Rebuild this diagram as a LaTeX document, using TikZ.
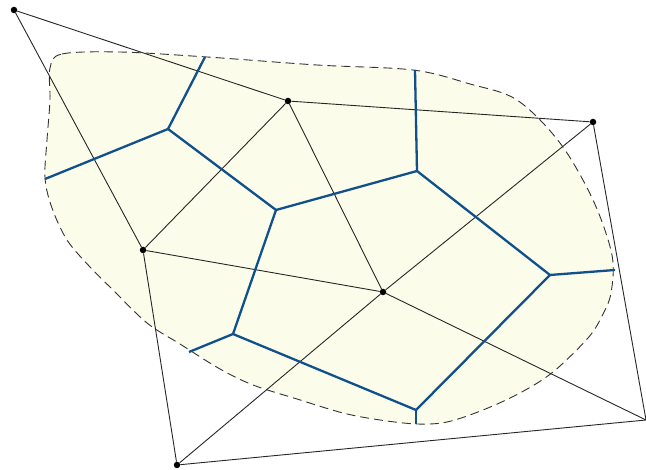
\documentclass[tikz,border=0pt]{standalone}
\begin{document}
\begin{tikzpicture}[x=1pt,y=-1pt,
  site/.style={circle,fill=black,inner sep=0pt,minimum size=6.5pt},
  delaunay/.style={draw=black!85,line width=0.9pt},
  voronoi/.style={draw=vblue,line width=2.3pt,line join=round},
  region/.style={draw=black!80,dashed,dash pattern=on 9pt off 5pt,line width=0.9pt,fill=regfill}]
\definecolor{vblue}{RGB}{16,80,140}
\definecolor{regfill}{RGB}{252,252,235}
\useasboundingbox (0,0) rectangle (646,470);
% region
\path[region] plot[smooth cycle,tension=0.55] coordinates {
 (50,68) (62,54) (120,52) (207,57) (317,65) (413,70) (470,84) (517,100)
 (560,143) (593,200) (612,255) (611,293) (602,316) (588,338) (553,372)
 (520,393) (483,410) (447,422) (417,424) (380,420) (343,413) (297,399)
 (253,385) (220,369) (180,344) (147,323) (113,290) (90,267) (67,240)
 (52,208) (45,178) (47,140) (50,100)};
% sites
\node[site] (A) at (14,10) {};
\node[site] (B) at (288,101) {};
\node[site] (C) at (593,122) {};
\node[site] (D) at (143,250) {};
\node[site] (E) at (383,292) {};
\node[site] (F) at (177,465) {};
\coordinate (G) at (646,420);
% Delaunay edges
\draw[delaunay] (A) -- (B);
\draw[delaunay] (A) -- (D);
\draw[delaunay] (B) -- (C);
\draw[delaunay] (B) -- (D);
\draw[delaunay] (B) -- (E);
\draw[delaunay] (D) -- (E);
\draw[delaunay] (C) -- (E);
\draw[delaunay] (E) -- (F);
\draw[delaunay] (D) -- (F);
\draw[delaunay] (C) -- (G);
\draw[delaunay] (E) -- (G);
\draw[delaunay] (F) -- (G);
% Voronoi vertices and free ends
\coordinate (V1) at (168,129);
\coordinate (V2) at (276,210);
\coordinate (V3) at (417,171);
\coordinate (V4) at (233,334);
\coordinate (V5) at (550,275);
\coordinate (V6) at (416,410);
\coordinate (e1) at (205,57);
\coordinate (e2) at (45,179);
\coordinate (e3) at (415,70);
\coordinate (e4) at (615,270);
\coordinate (e5) at (416,424);
\coordinate (e6) at (189,352);
\draw[voronoi] (V1) -- (e1);
\draw[voronoi] (V1) -- (e2);
\draw[voronoi] (V1) -- (V2);
\draw[voronoi] (V2) -- (V3);
\draw[voronoi] (V2) -- (V4);
\draw[voronoi] (V3) -- (e3);
\draw[voronoi] (V3) -- (V5);
\draw[voronoi] (V5) -- (e4);
\draw[voronoi] (V5) -- (V6);
\draw[voronoi] (V6) -- (e5);
\draw[voronoi] (V4) -- (V6);
\draw[voronoi] (V4) -- (e6);
\end{tikzpicture}
\end{document}
